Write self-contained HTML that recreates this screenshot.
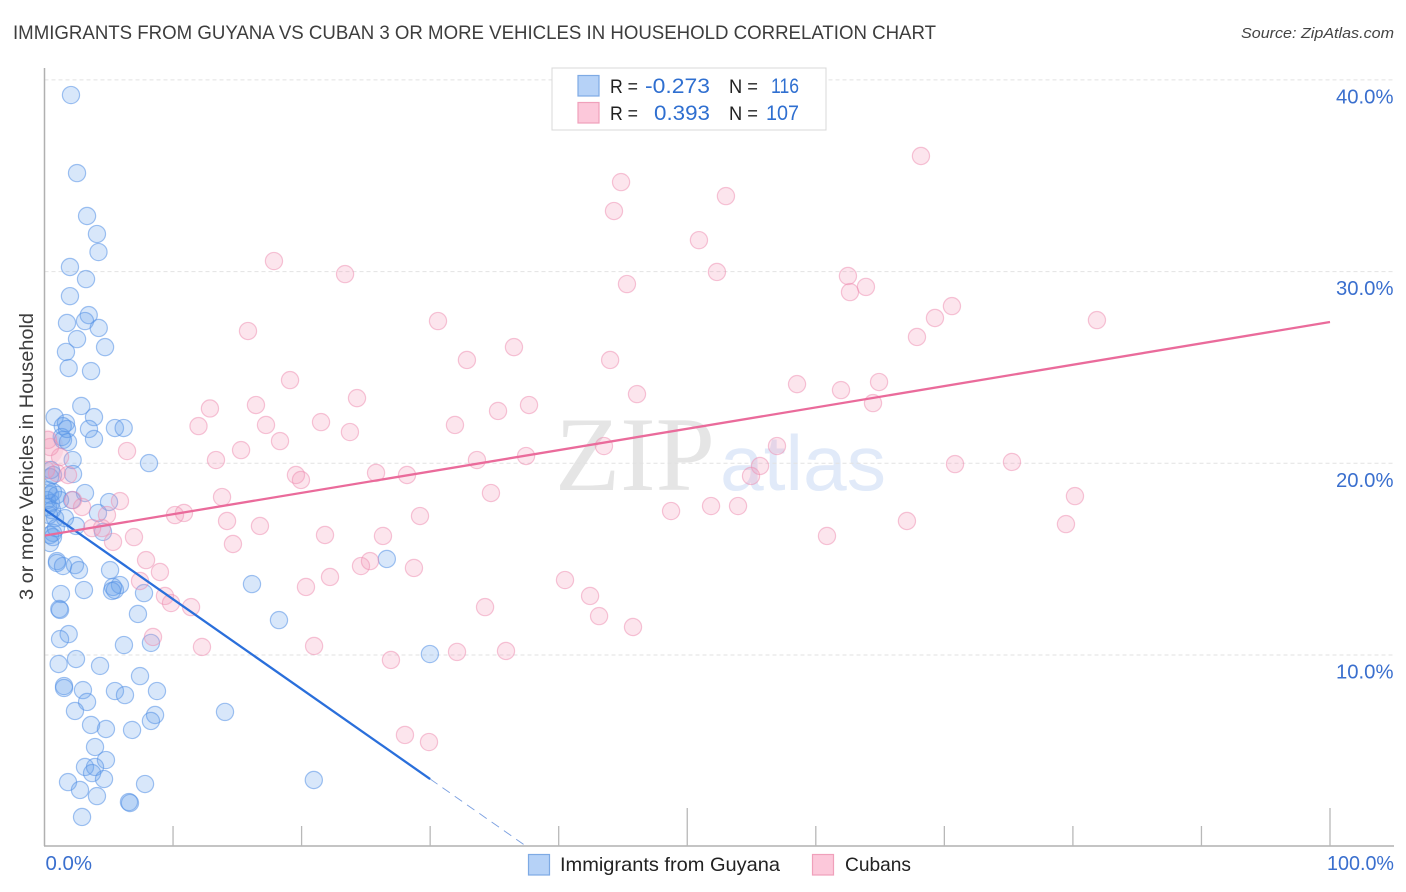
<!DOCTYPE html>
<html lang="en">
<head>
<meta charset="utf-8">
<title>Immigrants from Guyana vs Cuban 3 or More Vehicles in Household Correlation Chart</title>
<style>
html,body{margin:0;padding:0;background:#fff;}
svg{display:block;font-family:"Liberation Sans",sans-serif;}
</style>
</head>
<body>
<svg id="chart" xmlns="http://www.w3.org/2000/svg" width="1406" height="892" viewBox="0 0 1406 892">
  <defs>
    <clipPath id="plot-clip"><rect x="45" y="60" width="1349" height="786"/></clipPath>
  </defs>
  <rect x="0" y="0" width="1406" height="892" fill="#ffffff"/>
  <text x="13" y="39" font-size="19" fill="#3d3d3d" textLength="923" lengthAdjust="spacingAndGlyphs">IMMIGRANTS FROM GUYANA VS CUBAN 3 OR MORE VEHICLES IN HOUSEHOLD CORRELATION CHART</text>
  <text x="1394" y="38" font-size="15" font-style="italic" fill="#444444" text-anchor="end" textLength="153" lengthAdjust="spacingAndGlyphs">Source: ZipAtlas.com</text>
  <text transform="translate(33,456.5) rotate(-90)" font-size="19" fill="#3d3d3d" text-anchor="middle" textLength="287" lengthAdjust="spacingAndGlyphs">3 or more Vehicles in Household</text>

  <g>
    <text x="555" y="490" font-family="'Liberation Serif',serif" font-size="106" fill="#e5e5e5" textLength="160" lengthAdjust="spacingAndGlyphs">ZIP</text>
    <text x="720" y="490" font-size="78" fill="#e1eaf9" textLength="166" lengthAdjust="spacingAndGlyphs">atlas</text>
  </g>

  <g id="grid"></g>
  <g id="axes"></g>
  <g id="cuban-halo" clip-path="url(#plot-clip)"></g>
  <g id="guyana-points" clip-path="url(#plot-clip)"></g>
  <g id="cuban-points" clip-path="url(#plot-clip)"></g>
  <g id="trends" clip-path="url(#plot-clip)"></g>
  <g id="tick-labels"></g>

  <g>
    <rect x="552" y="68" width="274" height="62" fill="#ffffff" stroke="#d8d8d8" stroke-width="1"/>
    <rect x="578" y="75.5" width="21" height="20.5" fill="#b6d2f7" stroke="#7eaae4" stroke-width="1.2"/>
    <rect x="578" y="102.5" width="21" height="20.5" fill="#fcc8da" stroke="#f0a0bb" stroke-width="1.2"/>
    <text x="610" y="93" font-size="19.5" fill="#222222" textLength="28" lengthAdjust="spacingAndGlyphs">R =</text>
    <text x="645" y="93" font-size="21.5" fill="#2f6fd0" textLength="65" lengthAdjust="spacingAndGlyphs">-0.273</text>
    <text x="729" y="93" font-size="19.5" fill="#222222" textLength="29" lengthAdjust="spacingAndGlyphs">N =</text>
    <text x="771" y="93" font-size="21.5" fill="#2f6fd0" textLength="28" lengthAdjust="spacingAndGlyphs">116</text>
    <text x="610" y="120" font-size="19.5" fill="#222222" textLength="28" lengthAdjust="spacingAndGlyphs">R =</text>
    <text x="654" y="120" font-size="21.5" fill="#2f6fd0" textLength="56" lengthAdjust="spacingAndGlyphs">0.393</text>
    <text x="729" y="120" font-size="19.5" fill="#222222" textLength="29" lengthAdjust="spacingAndGlyphs">N =</text>
    <text x="766" y="120" font-size="21.5" fill="#2f6fd0" textLength="33" lengthAdjust="spacingAndGlyphs">107</text>
  </g>

  <g>
    <rect x="528.5" y="854.5" width="21" height="20.5" fill="#b6d2f7" stroke="#7eaae4" stroke-width="1.2"/>
    <text x="560" y="871" font-size="19.5" fill="#222222" textLength="220" lengthAdjust="spacingAndGlyphs">Immigrants from Guyana</text>
    <rect x="812.5" y="854.5" width="21" height="20.5" fill="#fcc8da" stroke="#f0a0bb" stroke-width="1.2"/>
    <text x="845" y="871" font-size="19.5" fill="#222222" textLength="66" lengthAdjust="spacingAndGlyphs">Cubans</text>
  </g>
</svg>
<script>
var xTickValues = [0,10,20,30,40,50,60,70,80,90,100];
var xMajorTicks = [50,100];
var yTickValues = [10,20,30,40];
var xEndLabels = ["0.0%","100.0%"];
var yTickLabels = ["10.0%","20.0%","30.0%","40.0%"];

var guyanaX = [2.06,2.53,3.31,4.08,4.20,1.98,3.23,1.98,3.44,3.15,1.75,4.22,2.53,4.71,1.67,1.88,3.62,2.86,3.85,0.79,1.67,1.42,3.46,5.48,6.16,1.34,1.83,3.85,1.44,2.19,8.13,2.22,0.66,0.43,3.15,0.43,0.66,2.14,5.02,0.19,0.51,0.27,1.21,4.16,0.82,1.59,2.45,4.55,0.66,0.43,0.66,0.43,0.97,0.97,1.44,2.37,2.68,5.10,5.87,5.33,5.48,5.25,7.74,1.28,3.07,7.27,1.15,1.21,1.88,1.21,6.18,8.28,1.10,2.45,4.32,7.43,1.52,1.52,2.99,5.48,6.26,8.75,3.31,2.37,8.60,8.28,3.62,4.78,6.81,3.93,4.78,3.15,3.93,3.70,4.63,1.83,2.76,4.08,7.82,6.57,6.65,2.92,14.04,16.14,18.24,26.63,29.98,20.95,0.89,0.58,0.35,0.97,0.27,0.50,1.75];
var guyanaY = [39.21,35.14,32.90,31.96,31.02,30.24,29.61,28.72,27.73,27.42,27.32,27.06,26.48,26.06,25.81,24.97,24.81,22.99,22.41,22.41,22.10,21.94,21.79,21.84,21.84,21.37,21.11,21.27,21.22,20.17,20.01,19.44,19.39,19.28,18.45,18.35,18.50,18.08,17.98,18.08,17.93,17.72,18.08,17.41,17.14,17.14,16.73,16.42,16.37,16.26,16.15,15.84,14.90,14.80,14.64,14.69,14.43,14.43,13.65,13.55,13.39,13.34,13.23,13.18,13.39,12.14,12.40,12.35,11.09,10.83,10.52,10.63,9.53,9.79,9.43,8.90,8.38,8.28,8.17,8.12,7.91,8.12,7.55,7.08,6.87,6.56,6.35,6.14,6.09,5.20,4.52,4.16,4.16,3.84,3.53,3.37,2.96,2.64,3.27,2.33,2.28,1.55,7.03,13.70,11.82,15.01,10.05,3.48,16.62,17.56,17.30,18.35,18.60,19.65,21.79];

var cubanX = [68.18,44.85,44.30,53.01,50.91,17.85,23.38,52.31,45.31,62.50,62.66,63.90,70.59,69.27,67.87,81.87,15.83,30.61,36.52,32.86,44.00,19.10,58.54,61.96,64.92,64.45,46.09,24.31,37.69,35.28,12.87,16.45,11.98,17.23,21.51,31.93,23.76,18.32,13.34,15.29,43.52,56.98,6.42,33.64,37.46,70.83,75.26,55.66,54.96,25.79,28.20,19.56,19.95,34.73,13.81,80.16,5.87,48.74,51.85,53.95,10.15,10.85,14.20,29.21,16.76,67.09,79.46,21.82,26.33,60.87,14.66,6.96,5.33,7.90,8.98,7.43,9.37,9.84,11.40,20.34,22.21,24.62,25.32,28.74,40.49,42.44,34.27,43.14,45.78,8.44,12.25,20.97,26.95,32.09,35.90,28.04,29.91,1.21,0.43,0.97,1.83,2.22,2.92,4.86,3.70,4.47,0.12,0.27];
var cubanY = [36.03,34.67,33.16,33.94,31.64,30.55,29.87,29.98,29.35,29.77,28.93,29.20,28.20,27.58,26.59,27.47,26.90,27.42,26.06,25.39,25.39,24.34,24.13,23.82,24.24,23.14,23.61,23.40,23.04,22.73,22.86,23.04,21.94,22.00,22.15,22.00,21.63,21.16,20.17,20.69,20.90,20.90,20.64,20.17,20.38,19.96,20.07,19.86,19.34,19.50,19.39,19.39,19.13,18.45,18.24,18.29,18.03,17.51,17.77,17.77,17.30,17.41,16.99,17.25,16.73,16.99,16.83,16.26,16.21,16.21,15.79,16.15,15.90,14.95,14.33,13.86,13.08,12.71,12.50,13.55,14.07,14.64,14.90,14.54,13.91,13.08,12.50,12.03,11.46,10.94,10.42,10.47,9.74,10.16,10.21,5.83,5.46,20.33,20.85,19.49,19.39,18.08,17.72,17.30,16.62,16.62,19.65,21.22];

var cubanHaloX = [0.05];
var cubanHaloY = [20.8];

var guyanaTrendX = [0,30];
var guyanaTrendY = [17.6,3.53];
var cubanTrendX = [0,100];
var cubanTrendY = [16.23,27.37];

var NS = 'http://www.w3.org/2000/svg';
function xScale(v){ return 44.5 + v * 12.855; }
function yScale(v){ return 846.7 - v * 19.17; }
function make(tag, attrs, parent){
  var el = document.createElementNS(NS, tag);
  for (var k in attrs) { el.setAttribute(k, attrs[k]); }
  parent.appendChild(el);
  return el;
}

var gridGroup = document.getElementById('grid');
yTickValues.forEach(function(v){
  var line = make('line', {x1:44.5, x2:1394, y1:yScale(v), y2:yScale(v), stroke:'#e2e2e2', 'stroke-width':1, 'stroke-dasharray':'4 3'}, gridGroup);
  
  
});

var axesGroup = document.getElementById('axes');
var yAxisLine = make('line', {x1:44.5, x2:44.5, y1:68, y2:846, stroke:'#b0b0b0', 'stroke-width':1.5}, axesGroup);


var xAxisLine = make('line', {x1:44, x2:1394, y1:846, y2:846, stroke:'#b0b0b0', 'stroke-width':1.5}, axesGroup);


xTickValues.forEach(function(v){
  if (v === 0) { return; }
  var top = xMajorTicks.indexOf(v) >= 0 ? 808 : 826;
  var tick = make('line', {x1:xScale(v), x2:xScale(v), y1:top, y2:846, stroke:'#b8b8b8', 'stroke-width':1.3}, axesGroup);
  
  
});

var haloGroup = document.getElementById('cuban-halo');
cubanHaloX.forEach(function(x, i){
  var halo = make('circle', {cx:xScale(x), cy:yScale(cubanHaloY[i]), r:18.5, fill:'rgba(245,160,190,0.24)'}, haloGroup);
  
  
});

function drawPoints(xs, ys, groupId, fill, stroke, name){
  var group = document.getElementById(groupId);
  xs.forEach(function(x, i){
    var c = make('circle', {cx:xScale(x), cy:yScale(ys[i]), r:8.6, fill:fill, stroke:stroke, 'stroke-width':1.2}, group);
    
    
  });
}
drawPoints(guyanaX, guyanaY, 'guyana-points', 'rgba(100,160,235,0.25)', 'rgba(85,145,230,0.55)', 'guyana-point');
drawPoints(cubanX, cubanY, 'cuban-points', 'rgba(245,150,185,0.25)', 'rgba(238,140,175,0.5)', 'cuban-point');

var trendGroup = document.getElementById('trends');
var guyanaSlope = (guyanaTrendY[1] - guyanaTrendY[0]) / (guyanaTrendX[1] - guyanaTrendX[0]);
var guyanaZeroX = guyanaTrendX[0] - guyanaTrendY[0] / guyanaSlope;
var guyanaDash = make('line', {x1:xScale(guyanaTrendX[1]), y1:yScale(guyanaTrendY[1]), x2:xScale(guyanaZeroX), y2:yScale(0), stroke:'#7a9fe0', 'stroke-width':0.9, 'stroke-dasharray':'9 6'}, trendGroup);


var guyanaLine = make('line', {x1:xScale(guyanaTrendX[0]), y1:yScale(guyanaTrendY[0]), x2:xScale(guyanaTrendX[1]), y2:yScale(guyanaTrendY[1]), stroke:'#2a6fdb', 'stroke-width':2.3}, trendGroup);


var cubanLine = make('line', {x1:xScale(cubanTrendX[0]), y1:yScale(cubanTrendY[0]), x2:xScale(cubanTrendX[1]), y2:yScale(cubanTrendY[1]), stroke:'#ea6b9b', 'stroke-width':2.3}, trendGroup);



var labelGroup = document.getElementById('tick-labels');
yTickValues.forEach(function(v, i){
  var t = make('text', {x:1336, y:yScale(v) + 23.5, 'font-size':20, fill:'#3a6fce', textLength:57.5, lengthAdjust:'spacingAndGlyphs'}, labelGroup);
  t.textContent = yTickLabels[i];
  
  
});
var x0Label = make('text', {x:45.5, y:870, 'font-size':20, fill:'#3a6fce', textLength:46.5, lengthAdjust:'spacingAndGlyphs'}, labelGroup);
x0Label.textContent = xEndLabels[0];


var x100Label = make('text', {x:1327, y:870, 'font-size':20, fill:'#3a6fce', textLength:67, lengthAdjust:'spacingAndGlyphs'}, labelGroup);
x100Label.textContent = xEndLabels[1];


</script>
</body>
</html>
